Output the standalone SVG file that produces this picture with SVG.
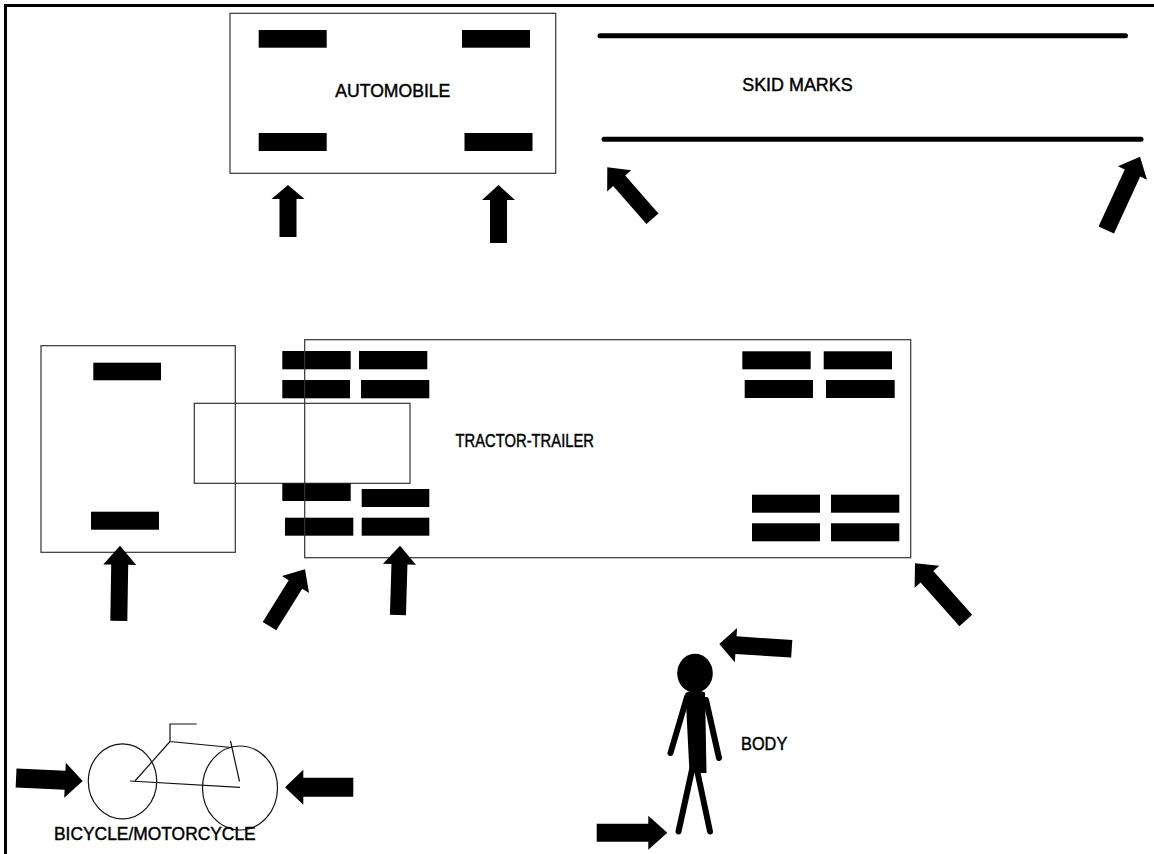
<svg xmlns="http://www.w3.org/2000/svg" width="1154" height="854" viewBox="0 0 1154 854">
<style>
.box{fill:none;stroke:#333;stroke-width:1.2}
.wh{fill:#000}
.lbl{font-family:"Liberation Sans",Arial,sans-serif;font-size:18.5px;fill:#000;stroke:#000;stroke-width:0.45}
.arr{fill:#000}
.skid{stroke:#000;stroke-width:5;stroke-linecap:round;fill:none}
.thin{stroke:#111;stroke-width:1.2;fill:none}
.limb{stroke:#000;stroke-width:6;stroke-linecap:round;fill:none}
</style>
<rect width="1154" height="854" fill="#fff"/>
<path d="M5.5,854 V5.5 H1154" fill="none" stroke="#000" stroke-width="3"/>

<g id="automobile">
<rect class="box" x="230" y="13.3" width="325.7" height="160"/>
<rect class="wh" x="258.7" y="30" width="68" height="17.7"/>
<rect class="wh" x="462" y="30" width="68" height="17.7"/>
<rect class="wh" x="258.7" y="133" width="68" height="18"/>
<rect class="wh" x="464.5" y="133" width="68" height="18"/>
<text class="lbl" x="335.3" y="96.7" textLength="115" lengthAdjust="spacingAndGlyphs">AUTOMOBILE</text>
</g>

<g id="skid-marks">
<line class="skid" x1="600" y1="35.7" x2="1125.5" y2="35.7"/>
<line class="skid" x1="604" y1="139.3" x2="1141" y2="139.3"/>
<text class="lbl" x="742.2" y="90.7" textLength="110.5" lengthAdjust="spacingAndGlyphs">SKID MARKS</text>
</g>

<g id="tractor">
<rect class="box" x="41" y="345.7" width="194.3" height="206.6"/>
<rect class="wh" x="93.3" y="362.7" width="67.7" height="17.6"/>
<rect class="wh" x="91" y="511.7" width="68" height="18"/>
</g>

<g id="fifth-wheel">
<rect class="box" x="194.3" y="403.3" width="215.7" height="80"/>
</g>

<g id="trailer">
<rect class="wh" x="282.3" y="351" width="68.4" height="18.3"/>
<rect class="wh" x="359" y="351" width="68.3" height="18.3"/>
<rect class="wh" x="282.3" y="380" width="67.7" height="18.3"/>
<rect class="wh" x="361" y="380" width="68.3" height="18.3"/>
<rect class="wh" x="282.3" y="483.3" width="68.4" height="17.7"/>
<rect class="wh" x="361.7" y="489" width="67.6" height="18"/>
<rect class="wh" x="285" y="517.7" width="68.3" height="18"/>
<rect class="wh" x="361.7" y="517.7" width="67.6" height="18"/>
<rect class="wh" x="742.3" y="351.3" width="68.4" height="18"/>
<rect class="wh" x="823.7" y="351.3" width="68.3" height="18"/>
<rect class="wh" x="744.7" y="380" width="68.3" height="18"/>
<rect class="wh" x="826" y="380" width="68.7" height="18"/>
<rect class="wh" x="752" y="494.7" width="68" height="18"/>
<rect class="wh" x="831" y="494.7" width="68.3" height="18"/>
<rect class="wh" x="752" y="523.3" width="68" height="18"/>
<rect class="wh" x="831" y="523.3" width="68.3" height="18"/>
<rect class="box" x="304.7" y="339.7" width="606" height="218"/>
<text class="lbl" x="455.5" y="446.7" textLength="138.5" lengthAdjust="spacingAndGlyphs">TRACTOR-TRAILER</text>
</g>

<g id="body">
<ellipse cx="695" cy="673.3" rx="17.8" ry="19.5" fill="#000"/>
<path d="M685.5,693 Q695,688 705,692.5 L706.5,773 L689.5,773 Z" fill="#000"/>
<line class="limb" x1="687" y1="697" x2="670.5" y2="753"/>
<line class="limb" x1="706" y1="700" x2="719" y2="758"/>
<line class="limb" x1="692" y1="770" x2="678.5" y2="831.5"/>
<line class="limb" x1="697" y1="770" x2="710" y2="831.5"/>
<text class="lbl" x="741" y="750" textLength="46.3" lengthAdjust="spacingAndGlyphs">BODY</text>
</g>

<g id="bicycle">
<ellipse class="thin" cx="122.5" cy="781.3" rx="34.2" ry="37.5"/>
<ellipse class="thin" cx="240" cy="788" rx="37.5" ry="42"/>
<polyline class="thin" points="196.7,724 170,724 170,741.5 231.5,747.5"/>
<line class="thin" x1="170" y1="741.5" x2="135" y2="781"/>
<line class="thin" x1="230.5" y1="741" x2="239.5" y2="781.5"/>
<line class="thin" x1="130" y1="781" x2="240" y2="787.3"/>
<text class="lbl" x="54" y="840" textLength="201.7" lengthAdjust="spacingAndGlyphs">BICYCLE/MOTORCYCLE</text>
</g>

<g id="connectors">
<path class="arr" transform="translate(288,185)" d="M0,0 L16.5,14 L8.5,14 L8.5,52 L-8.5,52 L-8.5,14 L-16.5,14 Z"/>
<path class="arr" transform="translate(498.5,185)" d="M0,0 L16.5,15 L8.5,15 L8.5,58 L-8.5,58 L-8.5,15 L-16.5,15 Z"/>
<path class="arr" transform="translate(607.3,167.3) rotate(-41.3)" d="M0,0 L16,18 L8,18 L8,68.4 L-8,68.4 L-8,18 L-16,18 Z"/>
<path class="arr" transform="translate(1140,156.7) rotate(24.7)" d="M0,0 L16,18 L8.5,18 L8.5,80.7 L-8.5,80.7 L-8.5,18 L-16,18 Z"/>
<path class="arr" transform="translate(120,545.7) rotate(0.9)" d="M0,0 L16.5,19 L8.5,19 L8.5,75.3 L-8.5,75.3 L-8.5,19 L-16.5,19 Z"/>
<path class="arr" transform="translate(305,569.3) rotate(32)" d="M0,0 L16,18 L8,18 L8,67 L-8,67 L-8,18 L-16,18 Z"/>
<path class="arr" transform="translate(400,545.7) rotate(1.7)" d="M0,0 L16.5,18.5 L8,18.5 L8,69.3 L-8,69.3 L-8,18.5 L-16.5,18.5 Z"/>
<path class="arr" transform="translate(915,563.3) rotate(-41.6)" d="M0,0 L16.5,18 L8.5,18 L8.5,76.5 L-8.5,76.5 L-8.5,18 L-16.5,18 Z"/>
<path class="arr" transform="translate(719.3,644) rotate(-86.2)" d="M0,0 L17.2,16.7 L8.8,16.7 L8.8,72.6 L-8.8,72.6 L-8.8,16.7 L-17.2,16.7 Z"/>
<path class="arr" transform="translate(667.3,832.7) rotate(90)" d="M0,0 L17,19 L9,19 L9,70.6 L-9,70.6 L-9,19 L-17,19 Z"/>
<path class="arr" transform="translate(82.7,781) rotate(92.6)" d="M0,0 L17.5,17.7 L9.5,17.7 L9.5,66.7 L-9.5,66.7 L-9.5,17.7 L-17.5,17.7 Z"/>
<path class="arr" transform="translate(285,787.3) rotate(-90)" d="M0,0 L17.5,18.3 L9.5,18.3 L9.5,68.3 L-9.5,68.3 L-9.5,18.3 L-17.5,18.3 Z"/>
</g>
</svg>
